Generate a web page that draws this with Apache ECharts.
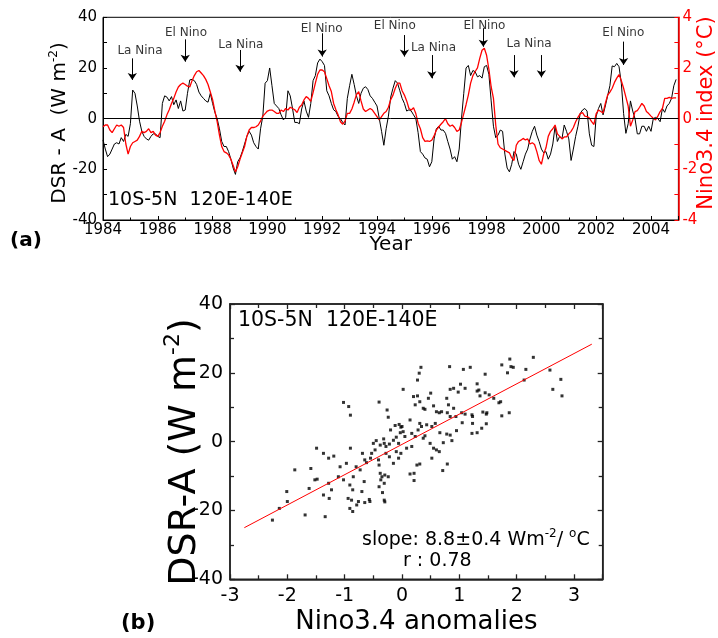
<!DOCTYPE html>
<html><head><meta charset="utf-8">
<script src="https://cdn.jsdelivr.net/npm/echarts@6/dist/echarts.min.js"></script>
<style>html,body{margin:0;padding:0;background:#fff}#c{width:718px;height:638px}</style>
</head><body><div id="c"></div>
<script>
// ---------- DATA ----------
const startYear = 1984; // monthly series, Jan 1984 .. Dec 2004
// DSR anomaly (W m-2), 10S-5N 120E-140E
const dsrAnomaly = [
 -8.4,-12,-15,-14,-12,-10,-9.5,-10,-7.5,-9,-6.2,-7,
 -2,11.3,10,5,-1,-5,-7,-8,-8.5,-7,-6,-6,
 -7,-7.5,6,9,8.5,7,8.7,5.5,7.4,4,7,3,
 3.4,10,15.3,15.5,15,13.5,10.5,9,8,7,6.5,10,
 6,2.5,0,-4,-9,-11,-11,-13,-16,-19.5,-22,-17,
 -15.5,-13,-10,-7,-5,-6.5,-9.5,-11,-12,-4,1,14,
 15,20,13,6,5,4,1.5,-0.5,0.5,11,9,4,
 -1.5,-1.5,-2,3.8,7,3,0.5,6,15,17,22,23.5,
 22.5,21,11,9,6,3.5,2.8,0.8,0,-1.5,-2.5,8,
 13,17.5,13.5,9,6,10,12,12.6,11.5,9,8,6.5,
 5,0,-5,-10.5,-4,1,8.5,12,15,14,11,8,
 6,3,3.5,3,1.5,0,-5.5,-13,-14,-15.5,-16,-19,
 -17,-8,-4,-3,-4.5,-4.5,-5.8,-9,-12,-16,-15,-17,
 -12,0,10,20,21,17,19,18.5,16.5,17,16,20.5,
 21,17.5,7,-3,-7.5,-6.5,-4.5,-5,-14,-19.5,-21,-18,
 -13,-14,-18,-20,-17,-14,-12,-8,-5,-3,-6.5,-9,
 -12,-13.5,-13,-16,-14,-10,-3,-9,-7,-8,-2.5,-5,
 -8,-16.5,-12,-7,-3,2,3.4,4,3,-6,-10.5,-11,
 1,4,6,1.5,5,9,13,20.8,20.5,21.8,20.5,14,
 2,-5.8,-2,7,3,0,-6,-6,-3,-3,-5,-3,
 -5,0,0.5,0,-1.2,4,2.5,5,6,8,13,15.5
];
// Nino3.4 index (deg C)
const nino34Index = [
 -0.32,-0.25,-0.25,-0.45,-0.55,-0.4,-0.25,-0.3,-0.25,-0.35,-1.0,-1.4,
 -1.1,-0.95,-0.9,-0.85,-0.7,-0.5,-0.55,-0.5,-0.4,-0.55,-0.5,-0.65,
 -0.7,-0.55,-0.3,-0.1,0.15,0.35,0.6,0.8,1.05,1.25,1.35,1.4,
 1.35,1.28,1.25,1.5,1.7,1.85,1.9,1.8,1.7,1.55,1.35,1.05,
 0.75,0.3,-0.12,-0.65,-1.1,-1.3,-1.35,-1.43,-1.6,-1.85,-2.1,-1.9,
 -1.6,-1.35,-1.1,-0.7,-0.45,-0.35,-0.35,-0.32,-0.25,-0.1,0.1,0.2,
 0.3,0.34,0.34,0.28,0.21,0.21,0.34,0.28,0.4,0.34,0.45,0.4,
 0.35,0.24,0.45,0.54,0.74,0.87,0.8,0.68,1.03,1.4,1.75,1.92,
 1.92,1.85,1.58,1.3,1.07,0.6,0.35,0.14,-0.12,-0.22,-0.1,0.21,
 0.21,0.38,0.65,0.95,1.07,0.7,0.38,0.28,0.34,0.4,0.34,0.21,
 0.08,-0.05,0.08,0.21,0.28,0.45,0.75,0.93,1.2,1.4,1.4,1.1,
 0.93,0.7,0.4,0.34,0.43,0.2,-0.18,-0.4,-0.75,-0.9,-0.88,-0.9,
 -0.85,-0.68,-0.45,-0.33,-0.22,-0.12,0,-0.2,-0.3,-0.25,-0.35,-0.5,
 -0.45,-0.15,0.2,0.55,0.93,1.4,1.7,1.86,2.0,2.38,2.7,2.78,
 2.5,1.95,1.25,0.8,-0.25,-1.0,-1.15,-1.2,-1.25,-1.3,-1.35,-1.55,
 -1.65,-1.05,-0.9,-0.85,-0.78,-0.84,-0.8,-1.0,-0.95,-1.02,-1.3,-1.65,
 -1.8,-1.4,-1.15,-0.7,-0.5,-0.4,-0.25,-0.6,-0.7,-0.8,-0.72,-0.72,
 -0.6,-0.5,-0.35,-0.12,0.05,0.2,0.24,0.1,0.08,0.02,-0.12,-0.23,
 0.2,0.34,0.28,0.22,0.6,0.93,1.05,1.2,1.43,1.6,1.74,1.5,
 1.2,0.85,0.5,-0.3,-0.05,0.28,0.32,0.45,0.6,0.5,0.28,0.2,
 0.1,0.02,-0.05,0.1,0.28,0.4,0.8,0.8,0.84,0.8,0.82,0.82
];
// ENSO event annotations (year, text level, arrow start/end in W m-2)
const eventLabels = ['La Nina','El Nino','La Nina','El Nino','El Nino','La Nina','El Nino','La Nina','El Nino'];
const eventTextYear = [1985.35,1987.03,1989.03,1991.98,1994.65,1996.06,1997.92,1999.55,2002.99];
const eventTextLevel = [26.8,34,29.3,35.5,36.8,27.8,36.6,29.7,33.7];
const arrowYear = [1985.07,1987.0,1989.0,1992.0,1995.0,1996.0,1997.88,1999.0,2000.0,2003.0];
const arrowFrom = [23.8,31.3,27.1,33.7,33,25.1,35.7,25.1,25.1,30.4];
const arrowTo   = [15.3,22.5,18.5,24.5,24.5,15.9,28.4,16.3,16.3,21.2];

// Scatter: Nino3.4 anomaly (deg C) vs DSR-A (W m-2)
const scatterPoints = [
 [-1.02,11.4],[-0.93,10.2],[-0.90,7.7],[-0.40,11.5],[-0.26,9.2],[-0.24,7.1],[-0.10,1.3],[-0.03,2.6],
 [-0.02,4.2],[-0.05,5.0],[-0.12,4.7],[-0.20,3.4],[-0.32,0.8],[-0.15,0.4],[-0.45,0.3],
 [-1.49,-1.9],[-1.87,-8.2],[-1.59,-7.8],[-1.52,-11.1],[-1.48,-10.9],[-1.62,-13.6],[-2.01,-14.5],
 [-2.00,-17.4],[-2.14,-19.4],[-2.26,-22.8],[-1.69,-21.3],[-1.34,-21.8],[-1.37,-15.5],[-1.27,-16.5],
 [-1.28,-12.1],[-1.23,-14.0],[-1.37,-3.4],[-1.28,-4.8],[-1.11,-10.2],[-1.08,-7.3],[-1.02,-11.1],
 [-0.97,-6.3],[-0.91,-12.6],[-0.86,-14.0],[-0.94,-16.5],[-0.91,-19.4],[-0.86,-20.3],[-0.79,-18.4],
 [-0.76,-17.4],[-0.88,-17.0],[-0.85,-10.2],[-0.73,-8.2],[-0.70,-14.5],[-0.66,-11.6],[-0.65,-17.7],
 [-0.57,-16.8],[-0.56,-17.4],[-0.69,-3.4],[-0.65,-5.3],[-0.55,-4.8],[-0.50,-0.5],[-0.41,-5.3],
 [-0.40,-6.8],[-0.38,-9.2],[-0.35,-10.2],[-0.37,-11.1],[-0.30,-9.7],[-0.31,-12.1],[-0.24,-10.2],
 [-0.34,-14.8],[-0.31,-17.0],[-0.30,-17.5],[-0.40,-13.1],[-0.22,-4.4],[-0.15,-6.3],[-0.10,-2.9],
 [-0.06,-4.8],[-0.02,-3.4],[-0.06,-0.5],[-0.38,-1.0],[-0.47,-2.4],[-0.28,-3.4],[-1.19,-4.2],
 [-0.90,-1.9],[-0.80,-7.3],[-0.62,-6.1],[-0.53,-3.4],[-0.31,-0.5],[-0.28,-1.4],[-0.22,-0.7],
 [2.29,24.5],[1.88,24.0],[1.74,22.3],[1.90,21.8],[1.94,21.6],[2.16,21.0],[2.58,20.8],[1.84,20.0],
 [2.13,17.9],[2.77,18.1],[2.63,15.2],[2.79,13.3],[1.45,19.6],[1.19,21.6],[1.07,21.0],[0.83,21.8],
 [0.33,21.6],[0.30,19.9],[0.27,17.9],[0.02,15.2],[0.84,15.2],[0.90,15.5],[1.02,16.7],[1.10,15.5],
 [0.98,14.4],[1.31,16.8],[1.34,15.0],[1.36,13.3],[1.45,14.2],[1.52,13.6],[1.60,12.6],[1.69,11.3],
 [1.72,11.6],[1.48,8.4],[1.41,8.6],[1.47,8.0],[1.74,7.5],[1.87,8.4],[0.20,13.1],[0.23,10.7],
 [0.27,13.3],[0.31,11.6],[0.37,9.7],[0.40,9.4],[0.46,12.6],[0.50,14.1],[0.55,10.4],[0.60,8.7],
 [0.65,8.4],[0.69,8.7],[0.78,12.6],[0.81,10.7],[0.79,8.4],[0.84,7.3],[0.90,9.7],[0.94,7.3],
 [1.04,8.4],[1.10,8.0],[1.22,7.8],[1.23,7.3],[1.31,14.7],[1.05,5.5],[0.95,3.2],[1.22,2.4],
 [1.31,2.6],[1.39,3.9],[1.47,5.2],[1.23,5.3],[0.31,5.3],[0.34,4.4],[0.43,4.9],[0.52,4.4],
 [0.58,5.3],[0.66,2.6],[0.72,-0.3],[0.78,2.2],[0.84,1.9],[0.87,0.3],[0.14,6.3],[0.17,2.4],
 [0.23,1.5],[0.28,3.4],[0.37,1.0],[0.40,1.7],[0.49,-0.5],[0.55,-1.9],[0.60,-2.4],[0.65,-2.9],
 [0.52,-4.8],[0.71,-8.4],[0.79,-6.5],[0.08,-1.9],[0.17,-1.4],[0.02,2.9],[0.00,4.4],[0.05,1.5],
 [0.26,-6.8],[0.31,-6.5],[0.21,-9.2],[0.21,-11.3],[0.14,-9.4]
];
const fitSlope = 8.8;      // W m-2 per deg C
const fitIntercept = -0.8;
const fitRange = [-2.75, 3.31];

// ---------- CHART ----------
const FONT = 'DejaVu Sans';
const months = dsrAnomaly.map((v, i) => startYear + i / 12);
const dsrSeries = dsrAnomaly.map((v, i) => [months[i], v]);
const ninoSeries = nino34Index.map((v, i) => [months[i], v]);
const eventData = eventLabels.map((t, i) => [eventTextYear[i], eventTextLevel[i], t]);
const arrowData = arrowYear.map((x, i) => [{coord: [x, arrowFrom[i]]}, {coord: [x, arrowTo[i]]}]);
const fitData = fitRange.map(x => [x, fitSlope * x + fitIntercept]);

const supText = (base, sup, color) => ({
  b: {fontSize: base, fontFamily: FONT, fill: color},
  s: {fontSize: sup, fontFamily: FONT, fill: color, padding: [0, 0, Math.round(base * 0.62), 0]}
});

const chart = echarts.init(document.getElementById('c'), null, {renderer: 'canvas'});
const tickA = {show: true, inside: true, length: 4, lineStyle: {color: '#000', width: 1}};
const tickB = {show: true, inside: true, length: 5, lineStyle: {color: '#222', width: 1.3}};
const lineA = {show: true, onZero: false, lineStyle: {color: '#000', width: 1}};
const lineB = {show: true, onZero: false, lineStyle: {color: '#222', width: 1.5}};
const minorB = {show: true, splitNumber: 2, length: 4, lineStyle: {color: '#222', width: 1.3}};

chart.setOption({
  animation: false,
  backgroundColor: '#fff',
  textStyle: {fontFamily: FONT},
  grid: [
    {left: 103, top: 17.3, width: 575.4, height: 202.7, show: true, borderColor: '#000', borderWidth: 1, backgroundColor: 'transparent'},
    {left: 230, top: 304, width: 372.7, height: 275.3, show: true, borderColor: '#222', borderWidth: 1.5, backgroundColor: 'transparent'}
  ],
  xAxis: [
    {type: 'value', gridIndex: 0, min: 1984, max: 2005, interval: 2,
     axisLine: lineA, axisTick: tickA,
     minorTick: {show: true, splitNumber: 2, length: 2.5, lineStyle: {color: '#000'}},
     splitLine: {show: false},
     axisLabel: {color: '#000', fontSize: 15, fontFamily: FONT, margin: 3, showMaxLabel: false, formatter: v => String(v)},
     name: 'Year', nameLocation: 'middle', nameGap: 15, nameMoveOverlap: false,
     nameTextStyle: {color: '#000', fontSize: 20, fontFamily: FONT}},
    {type: 'value', gridIndex: 1, min: -3, max: 3.5, interval: 1,
     axisLine: lineB, axisTick: tickB, minorTick: minorB,
     splitLine: {show: false},
     axisLabel: {color: '#000', fontSize: 19, fontFamily: FONT, margin: 7, showMaxLabel: false, formatter: v => String(v)},
     name: 'Nino3.4 anomalies', nameLocation: 'middle', nameGap: 30, nameMoveOverlap: false,
     nameTextStyle: {color: '#000', fontSize: 26, fontFamily: FONT}},
    {type: 'value', gridIndex: 1, position: 'top', min: -3, max: 3.5, interval: 1,
     axisLine: lineB, axisTick: tickB, minorTick: minorB,
     splitLine: {show: false}, axisLabel: {show: false}}
  ],
  yAxis: [
    {type: 'value', gridIndex: 0, min: -40, max: 40, interval: 20,
     axisLine: lineA, axisTick: tickA,
     minorTick: {show: true, splitNumber: 2, length: 4, lineStyle: {color: '#000'}},
     splitLine: {show: false},
     axisLabel: {color: '#000', fontSize: 15, fontFamily: FONT, margin: 6}},
    {type: 'value', gridIndex: 0, position: 'right', min: -4, max: 4, interval: 2,
     axisLine: {show: true, onZero: false, lineStyle: {color: '#ff0000', width: 1.6}},
     axisTick: {show: true, inside: true, length: 4, lineStyle: {color: '#ff0000', width: 1}},
     minorTick: {show: true, splitNumber: 2, length: 4, lineStyle: {color: '#ff0000'}},
     splitLine: {show: false},
     axisLabel: {color: '#ff0000', fontSize: 15, fontFamily: FONT, margin: 4}},
    {type: 'value', gridIndex: 1, min: -40, max: 40, interval: 20,
     axisLine: lineB, axisTick: tickB, minorTick: minorB,
     splitLine: {show: false},
     axisLabel: {color: '#000', fontSize: 19, fontFamily: FONT, margin: 7}},
    {type: 'value', gridIndex: 1, position: 'right', min: -40, max: 40, interval: 20,
     axisLine: lineB, axisTick: tickB, minorTick: minorB,
     splitLine: {show: false}, axisLabel: {show: false}}
  ],
  series: [
    {type: 'line', name: 'DSR-A', xAxisIndex: 0, yAxisIndex: 0, data: dsrSeries,
     symbol: 'none', lineStyle: {color: '#000', width: 1}, z: 3,
     markLine: {silent: true, symbol: 'none', label: {show: false},
       lineStyle: {color: '#000', width: 1, type: 'solid'}, data: [{yAxis: 0}]}},
    {type: 'line', name: 'Nino3.4', xAxisIndex: 0, yAxisIndex: 1, data: ninoSeries,
     symbol: 'none', lineStyle: {color: '#ff0000', width: 1.3}, z: 4},
    {type: 'scatter', name: 'events', xAxisIndex: 0, yAxisIndex: 0, data: eventData,
     symbol: 'circle', symbolSize: 1, itemStyle: {color: 'rgba(0,0,0,0)'}, silent: true,
     label: {show: true, position: 'inside', color: '#000', fontSize: 12, fontFamily: FONT,
       formatter: p => p.data[2]},
     markLine: {silent: true, symbol: ['none', 'arrow'], symbolSize: 7, label: {show: false},
       lineStyle: {color: '#000', width: 1, type: 'solid'}, data: arrowData}},
    {type: 'scatter', name: 'scatter', xAxisIndex: 1, yAxisIndex: 2, data: scatterPoints,
     symbol: 'rect', symbolSize: 3, itemStyle: {color: '#000'}},
    {type: 'line', name: 'fit', xAxisIndex: 1, yAxisIndex: 2, data: fitData,
     symbol: 'none', lineStyle: {color: '#ff0000', width: 1}}
  ],
  graphic: [
    // axis titles (rotated)
    {type: 'text', x: 60, y: 123, rotation: Math.PI / 2, style: {
      text: '{b|DSR - A  (W m}{s|-2}{b|)}', align: 'center', verticalAlign: 'middle',
      rich: supText(20, 12, '#000')}},
    {type: 'text', x: 707, y: 113, rotation: Math.PI / 2, style: {
      text: 'Nino3.4 index (°C)', align: 'center', verticalAlign: 'middle',
      font: '21px "DejaVu Sans"', fill: '#ff0000'}},
    {type: 'text', x: 185, y: 452, rotation: Math.PI / 2, style: {
      text: '{b|DSR-A (W m}{s|-2}{b|)}', align: 'center', verticalAlign: 'middle',
      rich: supText(38, 22, '#000')}},
    // panel labels and notes
    {type: 'text', left: 10, top: 231, style: {text: '(a)', font: 'bold 20px "DejaVu Sans"', fill: '#000'}},
    {type: 'text', left: 121, top: 613, style: {text: '(b)', font: 'bold 21px "DejaVu Sans"', fill: '#000'}},
    {type: 'text', left: 108, top: 191, style: {text: '10S-5N  120E-140E', font: '19px "DejaVu Sans"', fill: '#000'}},
    {type: 'text', left: 238, top: 310, style: {text: '10S-5N  120E-140E', font: '20.5px "DejaVu Sans"', fill: '#000'}},
    {type: 'text', left: 362, top: 528, style: {
      text: '{b|slope: 8.8±0.4 Wm}{s|-2}{b|/ }{s|o}{b|C}',
      rich: {b: {fontSize: 19, fontFamily: FONT, fill: '#000'}, s: {fontSize: 12, fontFamily: FONT, fill: '#000', padding: [0, 0, 12, 0]}}}},
    {type: 'text', left: 403, top: 552, style: {text: 'r : 0.78', font: '19px "DejaVu Sans"', fill: '#000'}}
  ]
});
</script>
</body></html>
